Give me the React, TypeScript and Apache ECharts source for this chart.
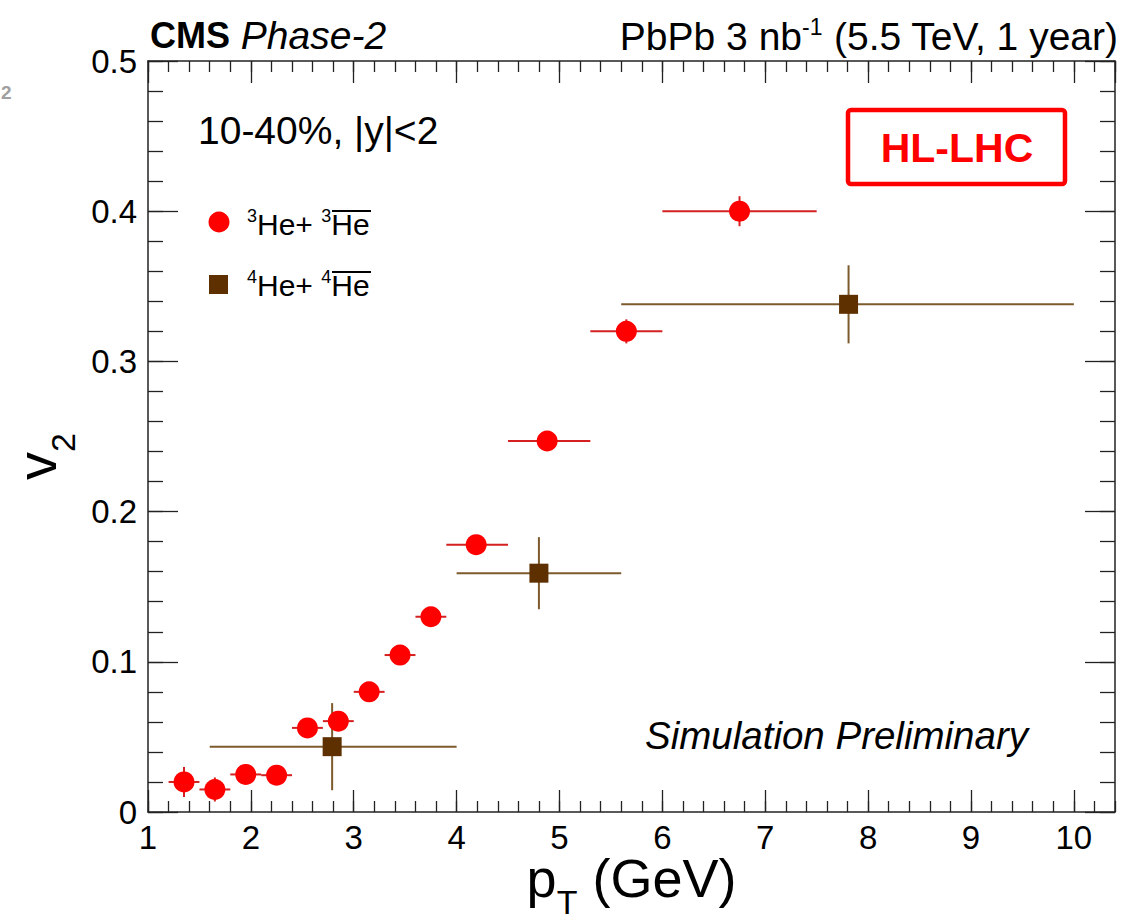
import React, { useEffect, useRef } from 'react';
import * as echarts from 'echarts';

// ---------- data ----------
const he3PtMean = [1.35, 1.65, 1.95, 2.25, 2.55, 2.85, 3.15, 3.45, 3.75, 4.19, 4.88, 5.65, 6.75];
const he3V2 = [0.020, 0.015, 0.025, 0.0245, 0.056, 0.0605, 0.080, 0.1045, 0.130, 0.178, 0.247, 0.320, 0.400];
const he3PtLow = [1.2, 1.5, 1.8, 2.1, 2.4, 2.7, 3.0, 3.3, 3.6, 3.9, 4.5, 5.3, 6.0];
const he3PtHigh = [1.5, 1.8, 2.1, 2.4, 2.7, 3.0, 3.3, 3.6, 3.9, 4.5, 5.3, 6.0, 7.5];
const he3V2Err = [0.010, 0.008, 0.005, 0.005, 0.005, 0.006, 0.005, 0.005, 0.005, 0.005, 0.006, 0.008, 0.010];

const he4PtMean = [2.79, 4.80, 7.81];
const he4V2 = [0.0435, 0.159, 0.338];
const he4PtLow = [1.6, 4.0, 5.6];
const he4PtHigh = [4.0, 5.6, 10.0];
const he4V2Err = [0.029, 0.024, 0.026];

const X_MIN = 1;
const X_MAX = 10.4;
const X_MAJOR = 1;
const X_MINOR = 0.2;
const Y_MIN = 0;
const Y_MAX = 0.5;
const Y_MAJOR = 0.1;
const Y_MINOR = 0.02;

const FONT = '"Liberation Sans", Arial, Helvetica, sans-serif';
const RED = '#ff0000';
const RED_BAR = '#d42020';
const BROWN = '#5e3000';
const BROWN_BAR = '#7d5a2c';
const AXIS_COLOR = '#222222';

const GRID = { left: 148, top: 61, width: 967, height: 751 };

function rows(x: number[], y: number[], lo: number[], hi: number[], err: number[]) {
  return x.map((v, i) => [v, y[i], lo[i], hi[i], err[i]]);
}

function errorBarSeries(data: number[][], color: string) {
  return {
    type: 'custom',
    xAxisIndex: 0,
    yAxisIndex: 0,
    silent: true,
    z: 2,
    encode: { x: 0, y: 1 },
    data,
    renderItem: (params: any, api: any) => {
      const x = api.value(0);
      const y = api.value(1);
      const l = api.coord([api.value(2), y]);
      const r = api.coord([api.value(3), y]);
      const t = api.coord([x, y + api.value(4)]);
      const b = api.coord([x, y - api.value(4)]);
      return {
        type: 'group',
        children: [
          { type: 'line', shape: { x1: l[0], y1: l[1], x2: r[0], y2: r[1] }, style: { stroke: color, lineWidth: 2 } },
          { type: 'line', shape: { x1: t[0], y1: t[1], x2: b[0], y2: b[1] }, style: { stroke: color, lineWidth: 2 } },
        ],
      };
    },
  };
}

function xAxisCfg(grid: number, pos: string, interval: number, tickLen: number, main: boolean, labels: boolean) {
  return {
    type: 'value',
    gridIndex: grid,
    position: pos,
    min: X_MIN,
    max: X_MAX,
    interval,
    axisLine: { show: main, onZero: false, lineStyle: { color: AXIS_COLOR, width: 1.5 } },
    axisTick: { show: true, inside: true, length: tickLen, lineStyle: { color: AXIS_COLOR, width: 1.3 } },
    axisLabel: {
      show: labels,
      showMaxLabel: false,
      margin: 12,
      fontSize: 33,
      lineHeight: 26,
      fontFamily: FONT,
      color: '#000',
    },
    splitLine: { show: false },
  };
}

function yAxisCfg(grid: number, pos: string, interval: number, tickLen: number, main: boolean, labels: boolean) {
  return {
    type: 'value',
    gridIndex: grid,
    position: pos,
    min: Y_MIN,
    max: Y_MAX,
    interval,
    axisLine: { show: main, onZero: false, lineStyle: { color: AXIS_COLOR, width: 1.5 } },
    axisTick: { show: true, inside: true, length: tickLen, lineStyle: { color: AXIS_COLOR, width: 1.3 } },
    axisLabel: {
      show: labels,
      margin: 11,
      fontSize: 33,
      fontFamily: FONT,
      color: '#000',
    },
    splitLine: { show: false },
  };
}

export default function App() {
  const ref = useRef<HTMLDivElement>(null);

  useEffect(() => {
    if (!ref.current) return;
    const chart = echarts.init(ref.current, undefined, { renderer: 'svg' });

    const xMainBottom: any = xAxisCfg(0, 'bottom', X_MAJOR, 22, true, true);
    xMainBottom.name = '{p|p}{s|T}{p| (GeV)}';
    xMainBottom.nameLocation = 'middle';
    xMainBottom.nameGap = 39;
    xMainBottom.nameMoveOverlap = false;
    xMainBottom.nameTextStyle = {
      rich: {
        p: { fontSize: 54, fontFamily: FONT, color: '#000', lineHeight: 56, verticalAlign: 'top' },
        s: { fontSize: 34, fontFamily: FONT, color: '#000', lineHeight: 68, verticalAlign: 'bottom' },
      },
    };

    const yMainLeft: any = yAxisCfg(0, 'left', Y_MAJOR, 30, true, true);
    yMainLeft.name = '{v|v}{s|2}';
    yMainLeft.nameLocation = 'middle';
    yMainLeft.nameGap = 62;
    yMainLeft.nameTextStyle = {
      padding: [0, 40, 0, 0],
      rich: {
        v: { fontSize: 56, fontFamily: FONT, color: '#000', lineHeight: 56, verticalAlign: 'top' },
        s: { fontSize: 34, fontFamily: FONT, color: '#000', lineHeight: 72, verticalAlign: 'bottom' },
      },
    };

    const gridCfg = { ...GRID, containLabel: false, outerBoundsMode: 'none' };

    const option: any = {
      animation: false,
      backgroundColor: '#ffffff',
      grid: [gridCfg, { ...gridCfg }],
      xAxis: [
        xMainBottom,
        xAxisCfg(0, 'top', X_MAJOR, 22, true, false),
        xAxisCfg(1, 'bottom', X_MINOR, 11, false, false),
        xAxisCfg(1, 'top', X_MINOR, 11, false, false),
      ],
      yAxis: [
        yMainLeft,
        yAxisCfg(0, 'right', Y_MAJOR, 30, true, false),
        yAxisCfg(1, 'left', Y_MINOR, 15, false, false),
        yAxisCfg(1, 'right', Y_MINOR, 15, false, false),
      ],
      series: [
        errorBarSeries(rows(he3PtMean, he3V2, he3PtLow, he3PtHigh, he3V2Err), RED_BAR),
        errorBarSeries(rows(he4PtMean, he4V2, he4PtLow, he4PtHigh, he4V2Err), BROWN_BAR),
        {
          name: '3He + anti-3He',
          type: 'scatter',
          xAxisIndex: 0,
          yAxisIndex: 0,
          z: 3,
          silent: true,
          symbol: 'circle',
          symbolSize: 21,
          itemStyle: { color: RED, opacity: 1 },
          data: he3PtMean.map((x, i) => [x, he3V2[i]]),
        },
        {
          name: '4He + anti-4He',
          type: 'scatter',
          xAxisIndex: 0,
          yAxisIndex: 0,
          z: 3,
          silent: true,
          symbol: 'rect',
          symbolSize: 19,
          itemStyle: { color: BROWN, opacity: 1 },
          data: he4PtMean.map((x, i) => [x, he4V2[i]]),
        },
      ],
      graphic: [
        {
          type: 'text',
          x: 150,
          y: 35,
          style: {
            text: '{b|CMS}{i| Phase-2}',
            textAlign: 'left', align: 'left',
            textVerticalAlign: 'middle', verticalAlign: 'middle',
            rich: {
              b: { fontSize: 36, fontWeight: 'bold', fontFamily: FONT, fill: '#000' },
              i: { fontSize: 39, fontStyle: 'italic', fontFamily: FONT, fill: '#000' },
            },
          },
        },
        {
          type: 'text',
          x: 1118,
          y: 36,
          style: {
            text: '{n|PbPb 3 nb}{s|-1}{n| (5.5 TeV, 1 year)}',
            textAlign: 'right', align: 'right',
            textVerticalAlign: 'middle', verticalAlign: 'middle',
            rich: {
              n: { fontSize: 39, fontFamily: FONT, fill: '#000', lineHeight: 41 },
              s: { fontSize: 23, fontFamily: FONT, fill: '#000', lineHeight: 23, verticalAlign: 'top' },
            },
          },
        },
        {
          type: 'text',
          x: 198,
          y: 130,
          style: {
            text: '10-40%, |y|<2',
            font: `39px ${FONT}`,
            fill: '#000',
            textAlign: 'left', align: 'left',
            textVerticalAlign: 'middle', verticalAlign: 'middle',
          },
        },
        // legend
        { type: 'circle', shape: { cx: 219, cy: 222, r: 10.5 }, style: { fill: RED } },
        { type: 'rect', shape: { x: 209, y: 275, width: 19, height: 19 }, style: { fill: BROWN } },
        {
          type: 'text',
          x: 247,
          y: 224,
          style: {
            text: '{s|3}{n|He+ }{s|3}{n|He}',
            textAlign: 'left', align: 'left',
            textVerticalAlign: 'middle', verticalAlign: 'middle',
            rich: {
              n: { fontSize: 30, fontFamily: FONT, fill: '#000', lineHeight: 34, verticalAlign: 'middle' },
              s: { fontSize: 18, fontFamily: FONT, fill: '#000', lineHeight: 20, verticalAlign: 'top' },
            },
          },
        },
        {
          type: 'text',
          x: 247,
          y: 285,
          style: {
            text: '{s|4}{n|He+ }{s|4}{n|He}',
            textAlign: 'left', align: 'left',
            textVerticalAlign: 'middle', verticalAlign: 'middle',
            rich: {
              n: { fontSize: 30, fontFamily: FONT, fill: '#000', lineHeight: 34, verticalAlign: 'middle' },
              s: { fontSize: 18, fontFamily: FONT, fill: '#000', lineHeight: 20, verticalAlign: 'top' },
            },
          },
        },
        { type: 'line', shape: { x1: 332, y1: 211, x2: 371, y2: 211 }, style: { stroke: '#000', lineWidth: 2 } },
        { type: 'line', shape: { x1: 332, y1: 272, x2: 371, y2: 272 }, style: { stroke: '#000', lineWidth: 2 } },
        // HL-LHC box
        {
          type: 'rect',
          shape: { x: 848, y: 110, width: 217, height: 74, r: 3 },
          style: { fill: 'rgba(0,0,0,0)', stroke: '#ff0000', lineWidth: 4.5 },
        },
        {
          type: 'text',
          x: 957,
          y: 148,
          style: {
            text: 'HL-LHC',
            font: `bold 41px ${FONT}`,
            fill: '#ff0000',
            textAlign: 'center', align: 'center',
            textVerticalAlign: 'middle', verticalAlign: 'middle',
          },
        },
        {
          type: 'text',
          x: 645,
          y: 735,
          style: {
            text: 'Simulation Preliminary',
            font: `italic 38.5px ${FONT}`,
            fill: '#000',
            textAlign: 'left', align: 'left',
            textVerticalAlign: 'middle', verticalAlign: 'middle',
          },
        },
        {
          type: 'text',
          x: 1,
          y: 92,
          style: {
            text: '2',
            font: `bold 19px ${FONT}`,
            fill: '#a0a0a0',
            textAlign: 'left', align: 'left',
            textVerticalAlign: 'middle', verticalAlign: 'middle',
          },
        },
      ],
    };

    chart.setOption(option);
    return () => chart.dispose();
  }, []);

  return (
    <div
      ref={ref}
      style={{ position: 'fixed', left: 0, top: 0, width: 1131, height: 920, background: '#fff' }}
    />
  );
}
